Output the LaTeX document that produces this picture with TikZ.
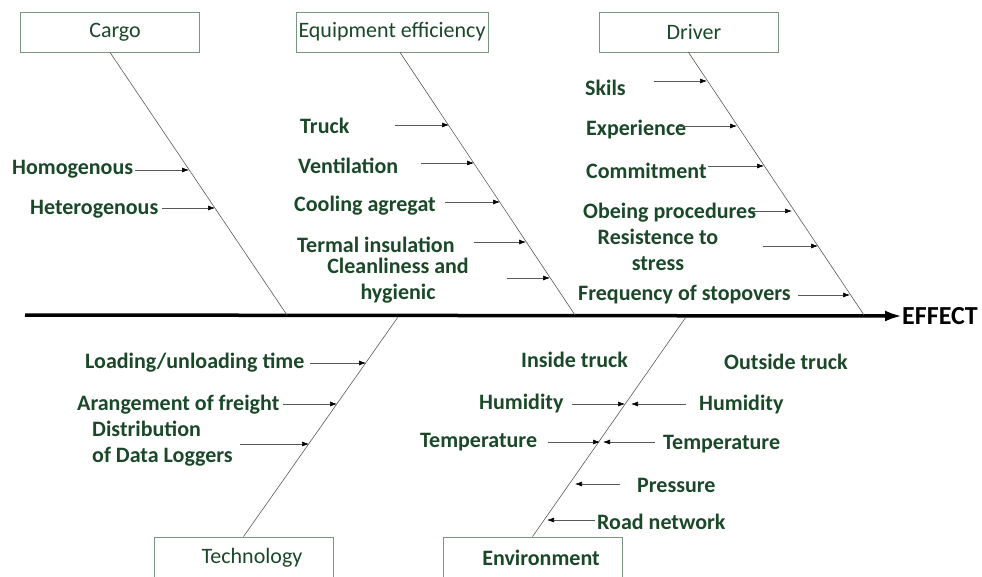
\documentclass[tikz,border=0pt]{standalone}
\usepackage{fontspec}
\setmainfont{Carlito}
\usepackage{tikz}
\usetikzlibrary{arrows.meta,positioning}
\definecolor{leafgreen}{RGB}{26,72,40}
\definecolor{boxline}{RGB}{120,150,130}
\tikzset{
  catbox/.style={draw=boxline, line width=0.8pt, minimum width=179pt, minimum height=40pt, inner sep=0pt, text=leafgreen, font=\fontsize{22}{26}\selectfont},
  lbl/.style={text=leafgreen, inner sep=0pt, yshift=-1.5pt, font=\bfseries\fontsize{22}{26}\selectfont},
  bone/.style={draw=black!65, line width=0.6pt},
  cause/.style={draw=black!65, line width=0.6pt, -{Latex[length=7pt,width=5pt,color=black]}},
  spine/.style={draw=black, line width=3.5pt, -{Latex[length=17pt,width=11pt]}}
}

\begin{document}
\begin{tikzpicture}[x=1pt,y=-1pt]
\useasboundingbox (0,0) rectangle (982,576);

% the category boxes
\node[catbox] (cargo) at (110,32) {\hspace*{10pt}Cargo};
\node[catbox, minimum width=192pt] (equip) at (392,32) {Equipment efficiency};
\node[catbox] (driver) at (688.5,32) {\hspace*{11pt}Driver};
\node[catbox, minimum height=41pt] (techno) at (243.5,557.5) {\hspace*{17pt}Technology};
\node[catbox, minimum height=41pt, font=\bfseries\fontsize{22}{26}\selectfont] (envir) at (532.5,557.5) {\hspace*{17pt}Environment};

% the spine
\coordinate (tail) at (25,315);
\node[anchor=west, inner sep=0pt, font=\bfseries\fontsize{26}{30}\selectfont] (effect) at (902,316) {EFFECT};
\draw[spine] (tail) -- (effect.west);

% the bones, edit here for where they meet the spine
\coordinate (cargo-root) at (287,315);
\coordinate (equip-root) at (575,315);
\coordinate (driver-root) at (864,315);
\coordinate (techno-root) at (398,317);
\coordinate (envir-root) at (686,317);
\draw[bone] (cargo.south) -- (cargo-root);
\draw[bone] ([xshift=8pt]equip.south) -- (equip-root);
\draw[bone] (driver.south) -- (driver-root);
\draw[bone] (techno-root) -- (techno.north);
\draw[bone] (envir-root) -- (envir.north);

% the causes
\node[lbl, anchor=west] (homo) at (12,168) {Homogenous};
\node[lbl, anchor=west] (hetero) at (30,208) {Heterogenous};
\node[lbl, anchor=west] (truck) at (300,124) {Truck};
\node[lbl, anchor=west] (vent) at (298,164) {Ventilation};
\node[lbl, anchor=west] (cool) at (294,204) {Cooling agregat};
\node[lbl, anchor=west] (term) at (297,243) {Termal insulation};
\node[lbl, align=center] (clean) at (398,279) {Cleanliness and\\hygienic};
\node[lbl, anchor=west] (skils) at (585,86) {Skils};
\node[lbl, anchor=west] (exper) at (586,128) {Experience};
\node[lbl, anchor=west] (commit) at (586,169) {Commitment};
\node[lbl, anchor=west] (obey) at (583,211) {Obeing procedures};
\node[lbl, align=center] (stress) at (658,248) {Resistence to\\stress};
\node[lbl, anchor=west] (stops) at (578,293) {Frequency of stopovers};
\node[lbl, anchor=west] (load) at (85,361) {Loading/unloading time};
\node[lbl, anchor=west] (arrange) at (77,403) {Arangement of freight};
\node[lbl, anchor=west] (logger) at (92,443) {\begin{tabular}{@{}l@{}}Distribution\\of Data Loggers\end{tabular}};
\node[lbl, anchor=west] (inside) at (521,358) {Inside truck};
\node[lbl, anchor=west] (outside) at (724,360) {Outside truck};
\node[lbl, anchor=west] (humin) at (479,402) {Humidity};
\node[lbl, anchor=west] (humout) at (699,403) {Humidity};
\node[lbl, anchor=west] (tempin) at (420,441) {Temperature};
\node[lbl, anchor=west] (tempout) at (663,443) {Temperature};
\node[lbl, anchor=west] (press) at (637,484) {Pressure};
\node[lbl, anchor=west] (road) at (597,520) {Road network};

% edit here for the small arrows
\foreach \nm/\xa/\xb/\yy in {homo/135/189/170, hetero/162/215/208,
  truck/395/449/125, vent/421/474/163, cool/445/500/202, term/474/526/242, clean/507/550/278,
  skils/654/707/81, exper/680/737/126, commit/708/764/166, obey/752/792/211, stress/763/818/246, stops/798/850/295,
  load/310/366/363, arrange/283/337/404, logger/240/309/444,
  humin/572/625/404, humout/686/631/404, tempin/548/600/442, tempout/655/603/442,
  press/620/575/484, road/595/547/520}
{
\coordinate (\nm-tail) at (\xa,\yy);
\coordinate (\nm-tip) at (\xb,\yy);
\draw[cause] (\nm-tail) -- (\nm-tip);
}
\end{tikzpicture}
\end{document}
